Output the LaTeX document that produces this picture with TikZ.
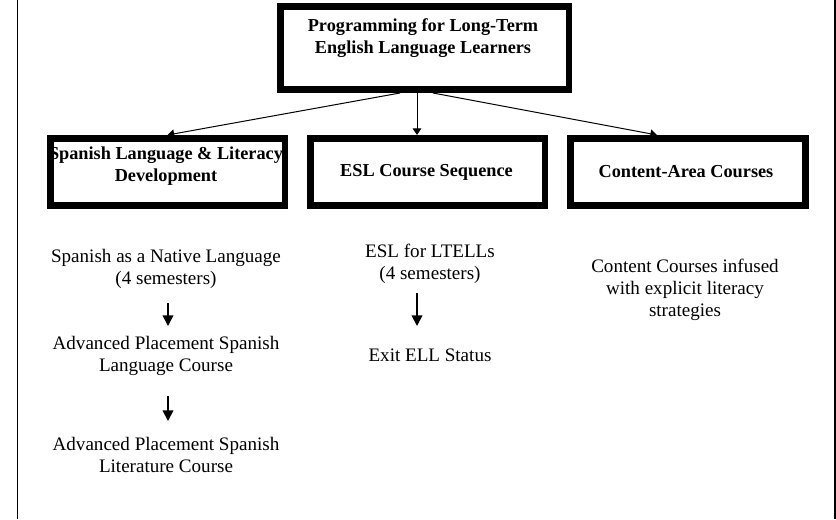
\documentclass[tikz,border=0pt]{standalone}
\usepackage{fontspec}
\setmainfont{Liberation Serif}
\usetikzlibrary{arrows.meta}
\begin{document}
\begin{tikzpicture}[x=0.75pt,y=-0.75pt,
  bigbox/.style={draw, line width=4.9pt, inner sep=0pt},
  hd/.style={font=\fontsize{13.7}{16.5}\selectfont\bfseries, align=center, inner sep=0pt},
  body/.style={font=\fontsize{14.3}{16.5}\selectfont, align=center, inner sep=0pt},
  link/.style={-{Triangle[length=5pt,width=6.5pt]}, line width=0.75pt},
  varrow/.style={-{Triangle[length=8pt,width=8pt]}, line width=1.3pt}
]
\useasboundingbox (0,0) rectangle (836,519);

% page edges
\coordinate (lt) at (17.7,0);
\coordinate (lb) at (17.7,519);
\coordinate (rt) at (835,0);
\coordinate (rb) at (835,519);
\draw[line width=1pt] (lt) -- (lb);
\draw[line width=1.5pt] (rt) -- (rb);

% boxes
\node[bigbox, minimum width=216.4pt, minimum height=62.6pt] (top) at (424.5,48) {};
\node[bigbox, minimum width=175.9pt, minimum height=50.6pt] (spl) at (167.5,172) {};
\node[bigbox, minimum width=175.9pt, minimum height=50.6pt] (esl) at (427.5,172) {};
\node[bigbox, minimum width=176.6pt, minimum height=50.6pt] (cac) at (688,172) {};

% box texts
\node[hd] (toptxt) at (423,38.5) {Programming for Long-Term\\English Language Learners};
\node[hd] (spltxt) at (166,166) {Spanish Language \& Literacy\\Development};
\node[hd] (esltxt) at (426.5,172) {ESL Course Sequence};
\node[hd] (cactxt) at (686,172) {Content-Area Courses};

% body texts
\node[body] (n1) at (166,268.5) {Spanish as a Native Language\\(4 semesters)};
\node[body] (n2) at (166,356) {Advanced Placement Spanish\\Language Course};
\node[body] (n3) at (166,455) {Advanced Placement Spanish\\Literature Course};
\node[body] (e1) at (430,263.5) {ESL for LTELLs\\(4 semesters)};
\node[body] (e2) at (430,355) {Exit ELL Status};
\node[body] (c1) at (685,290) {Content Courses infused\\with explicit literacy\\strategies};

% connectors from the top box
\coordinate (xl) at (400,0);
\coordinate (xm) at (417,0);
\coordinate (xr) at (433,0);
\coordinate (xrr) at (657,0);
\draw[link] (top.south -| xl) -- (spl.north);
\draw[link] (top.south -| xm) -- (esl.north -| xm);
\draw[link] (top.south -| xr) -- (cac.north -| xrr);

% arrows between course steps
\coordinate (a1s) at (168,303);
\coordinate (a1e) at (168,326);
\coordinate (a2s) at (168,396);
\coordinate (a2e) at (168,421);
\coordinate (a3s) at (417,293);
\coordinate (a3e) at (417,326);
\draw[varrow] (a1s) -- (a1e);
\draw[varrow] (a2s) -- (a2e);
\draw[varrow] (a3s) -- (a3e);
\end{tikzpicture}
\end{document}
